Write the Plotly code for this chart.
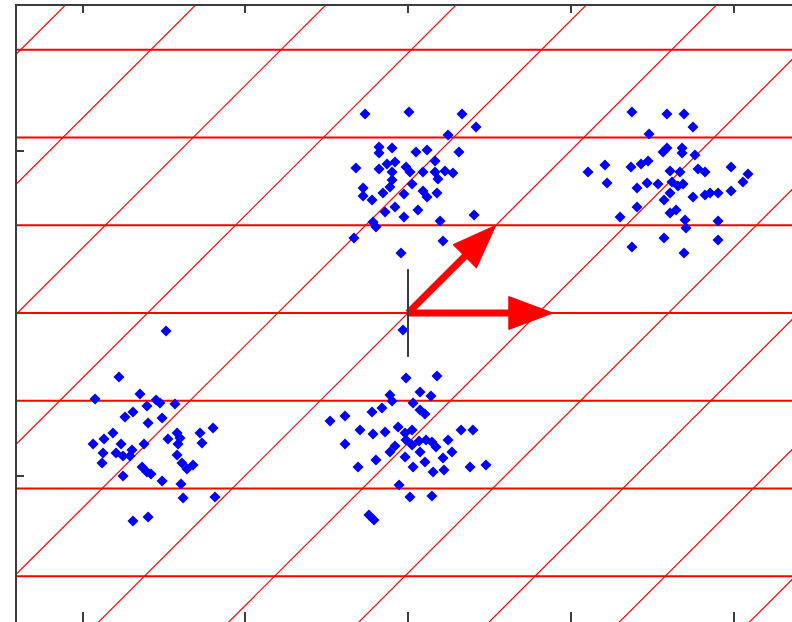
import plotly.graph_objects as go

# Lattice basis (data units) and the drawn basis arrows
b1 = [0.80, 0.0]
b2 = [0.54, 0.54]
arrow_h = [0.89, 0.0]
arrow_d = [0.54, 0.54]
row_index = list(range(-4, 5))
col_index = list(range(-7, 8))

# Noisy received samples around four lattice points
um_x = [-0.264, 0.006, 0.332, 0.418, 0.246, -0.178, -0.098, -0.178, 0.049, 0.117, 0.313, 0.166,
        -0.320, -0.178, -0.129, -0.080, -0.098, -0.012, 0.012, 0.092, 0.166, 0.227, 0.276, 0.184,
        -0.098, -0.111, 0.025, -0.276, -0.276, -0.221, -0.154, -0.025, 0.092, 0.117, 0.178, -0.080,
        -0.141, 0.061, -0.025, -0.215, -0.197, 0.197, 0.406, -0.332, 0.215, -0.043]
um_y = [1.225, 1.237, 1.225, 1.145, 1.095, 1.022, 1.015, 0.985, 0.991, 1.003, 0.991, 0.935,
        0.892, 0.886, 0.917, 0.929, 0.868, 0.898, 0.868, 0.868, 0.868, 0.874, 0.862, 0.825,
        0.818, 0.775, 0.794, 0.769, 0.720, 0.695, 0.738, 0.732, 0.751, 0.714, 0.738, 0.652,
        0.622, 0.634, 0.591, 0.560, 0.529, 0.566, 0.603, 0.462, 0.443, 0.369]

ur_x = [1.376, 1.591, 1.696, 1.751, 1.481, 1.591, 1.567, 1.684, 1.684, 1.763, 1.106, 1.210,
        1.370, 1.432, 1.475, 1.610, 1.671, 1.782, 1.825, 1.985, 2.089, 1.223, 1.407, 1.469,
        1.536, 1.622, 1.659, 1.690, 2.058, 1.610, 1.573, 1.751, 1.825, 1.856, 1.905, 1.985,
        1.407, 1.647, 1.610, 1.303, 1.702, 1.708, 1.905, 1.573, 1.905, 1.376, 1.696]
ur_y = [1.237, 1.225, 1.225, 1.145, 1.102, 1.015, 0.991, 1.015, 0.985, 0.972, 0.868, 0.911,
        0.898, 0.917, 0.935, 0.874, 0.868, 0.886, 0.868, 0.898, 0.855, 0.800, 0.769, 0.800,
        0.794, 0.806, 0.782, 0.794, 0.806, 0.738, 0.695, 0.714, 0.726, 0.738, 0.738, 0.751,
        0.652, 0.634, 0.615, 0.591, 0.572, 0.523, 0.566, 0.462, 0.449, 0.406, 0.369]

ll_x = [-1.487, -1.776, -1.923, -1.647, -1.548, -1.524, -1.604, -1.432, -1.739, -1.690, -1.597,
        -1.511, -1.813, -1.935, -1.868, -1.763, -1.874, -1.794, -1.751, -1.696, -1.708, -1.622,
        -1.880, -1.475, -1.419, -1.401, -1.413, -1.278, -1.266, -1.198, -1.419, -1.389, -1.358,
        -1.321, -1.634, -1.604, -1.579, -1.751, -1.511, -1.395, -1.382, -1.186, -1.690, -1.597]
ll_y = [-0.111, -0.394, -0.529, -0.498, -0.535, -0.554, -0.572, -0.560, -0.640, -0.609, -0.677,
        -0.646, -0.738, -0.806, -0.775, -0.806, -0.862, -0.862, -0.880, -0.843, -0.880, -0.806,
        -0.923, -0.775, -0.738, -0.769, -0.806, -0.738, -0.800, -0.708, -0.874, -0.923, -0.960,
        -0.935, -0.948, -0.978, -0.991, -1.003, -1.034, -1.052, -1.138, -1.132, -1.280, -1.255]

lm_x = [-0.031, -0.012, 0.178, -0.111, 0.074, 0.141, -0.479, -0.387, -0.221, -0.160, -0.098,
        0.031, 0.074, 0.104, -0.295, -0.215, -0.141, -0.061, -0.018, 0.025, -0.012, 0.025,
        -0.080, 0.068, 0.111, 0.147, 0.172, 0.246, 0.326, 0.399, -0.387, -0.111, -0.018,
        0.074, 0.104, 0.215, 0.270, 0.381, 0.479, -0.307, -0.197, 0.031, 0.154, 0.221,
        -0.055, 0.012, 0.147, -0.240, -0.209]
lm_y = [-0.105, -0.400, -0.388, -0.505, -0.486, -0.511, -0.665, -0.634, -0.609, -0.585, -0.542,
        -0.554, -0.597, -0.622, -0.720, -0.745, -0.732, -0.702, -0.738, -0.720, -0.782, -0.812,
        -0.818, -0.788, -0.782, -0.794, -0.825, -0.782, -0.720, -0.720, -0.806, -0.855, -0.886,
        -0.855, -0.917, -0.892, -0.855, -0.948, -0.935, -0.948, -0.905, -0.948, -0.978, -0.966,
        -1.058, -1.132, -1.126, -1.243, -1.274]

origin_mark_x = [0.0, 0.0]
origin_mark_y = [-0.27, 0.27]

x_ticks = [-2, -1, 0, 1, 2]
y_ticks = [-1, 1]

RED = "#ff0000"
BLUE = "#0000ff"
AXIS = "#3c3c3c"
PX_PER_UNIT = 162.6

fig = go.Figure()

# Horizontal lattice lines: multiples of the b2 height
hx, hy = [], []
for k in row_index:
    hx += [-3.0, 3.0, None]
    hy += [k * b2[1], k * b2[1], None]
fig.add_trace(go.Scatter(x=hx, y=hy, mode="lines", line=dict(color=RED, width=2),
                         hoverinfo="skip", showlegend=False))

# Slanted lattice lines: through m*b1 along the b2 direction
dx, dy = [], []
for m in col_index:
    x0, y0 = m * b1[0] - 5 * b2[0], -5 * b2[1]
    x1, y1 = m * b1[0] + 5 * b2[0], 5 * b2[1]
    dx += [x0, x1, None]
    dy += [y0, y1, None]
fig.add_trace(go.Scatter(x=dx, y=dy, mode="lines", line=dict(color=RED, width=1.2),
                         hoverinfo="skip", showlegend=False))

# Sample points
all_x = um_x + ur_x + ll_x + lm_x
all_y = um_y + ur_y + ll_y + lm_y
fig.add_trace(go.Scatter(x=all_x, y=all_y, mode="markers",
                         marker=dict(symbol="diamond", size=8.5, color=BLUE, line=dict(width=0)),
                         showlegend=False))

# Short vertical mark at the origin
fig.add_trace(go.Scatter(x=origin_mark_x, y=origin_mark_y, mode="lines", xaxis="x2",
                         line=dict(color=AXIS, width=2), hoverinfo="skip", showlegend=False))


def add_arrow(vec, head_len_px=44, head_half_px=16.5, shaft_w=7):
    vx, vy = vec
    n = (vx ** 2 + vy ** 2) ** 0.5
    ux, uy = vx / n, vy / n
    hl = head_len_px / PX_PER_UNIT
    hw = head_half_px / PX_PER_UNIT
    bx, by = vx - ux * hl, vy - uy * hl
    fig.add_trace(go.Scatter(x=[0, bx + ux * 0.01], y=[0, by + uy * 0.01], mode="lines",
                             line=dict(color=RED, width=shaft_w), hoverinfo="skip",
                             showlegend=False))
    px_, py_ = -uy, ux
    fig.add_trace(go.Scatter(x=[vx, bx + px_ * hw, bx - px_ * hw, vx],
                             y=[vy, by + py_ * hw, by - py_ * hw, vy],
                             mode="lines", fill="toself", fillcolor=RED,
                             line=dict(color=RED, width=1), hoverinfo="skip",
                             showlegend=False))


add_arrow(arrow_d)
add_arrow(arrow_h)

x_range = [-2.4025, 2.3594]
y_range = [-1.9015, 1.8892]

fig.update_layout(
    width=792, height=622,
    margin=dict(l=17, r=0, t=6, b=0),
    paper_bgcolor="white", plot_bgcolor="white",
    xaxis=dict(range=x_range, tickvals=x_ticks, showticklabels=False, ticks="inside",
               ticklen=10, tickwidth=2, tickcolor=AXIS, showline=True, linecolor=AXIS,
               linewidth=2, showgrid=False, zeroline=False),
    xaxis2=dict(range=x_range, matches="x", overlaying="x", side="top", tickvals=x_ticks,
                showticklabels=False, ticks="inside", ticklen=7, tickwidth=2, tickcolor=AXIS,
                showline=True, linecolor=AXIS, linewidth=2, showgrid=False, zeroline=False),
    yaxis=dict(range=y_range, tickvals=y_ticks, showticklabels=False, ticks="inside",
               ticklen=7, tickwidth=2, tickcolor=AXIS, showline=True, linecolor=AXIS,
               linewidth=2, showgrid=False, zeroline=False),
)

fig.write_html("out.html")
